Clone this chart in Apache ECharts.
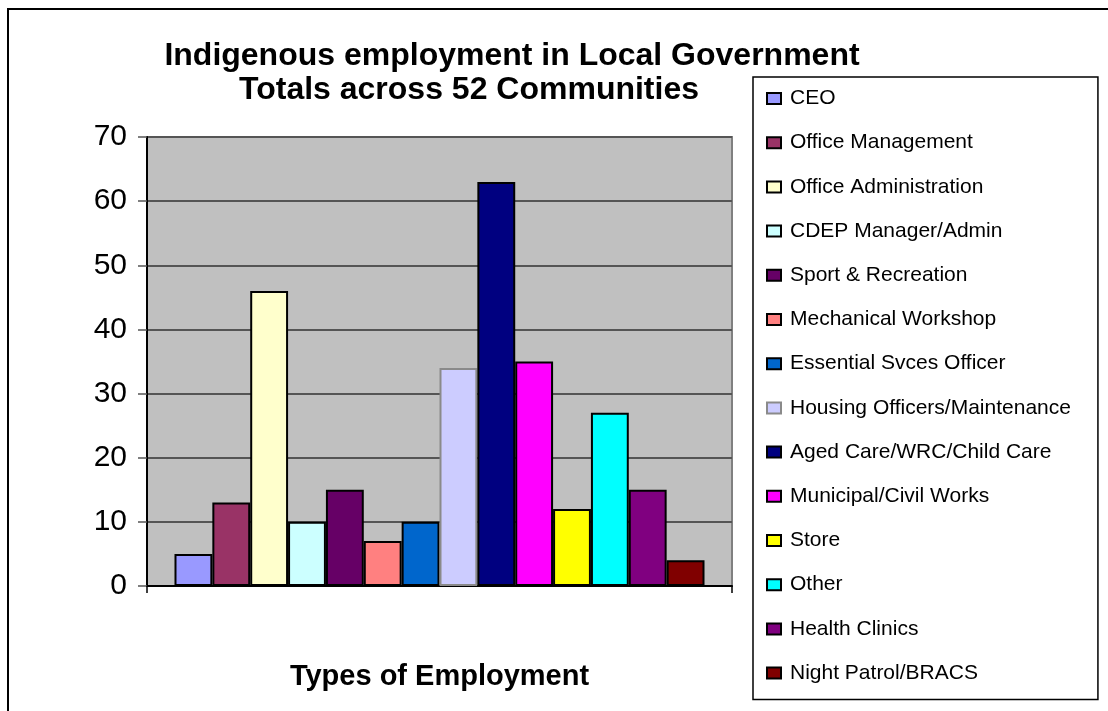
<!DOCTYPE html>
<html>
<head>
<meta charset="utf-8">
<script src="https://cdn.jsdelivr.net/npm/echarts@6/dist/echarts.min.js"></script>
<style>
  html, body { margin: 0; padding: 0; background: #ffffff; }
  #chart { width: 1108px; height: 711px; }
</style>
</head>
<body>
<div id="chart"></div>
<script>
// Employment types (one bar each) and head counts
const employmentTypes = [
  'CEO', 'Office Management', 'Office Administration', 'CDEP Manager/Admin',
  'Sport & Recreation', 'Mechanical Workshop', 'Essential Svces Officer',
  'Housing Officers/Maintenance', 'Aged Care/WRC/Child Care',
  'Municipal/Civil Works', 'Store', 'Other', 'Health Clinics', 'Night Patrol/BRACS'
];
const employeeCounts = [5, 13, 46, 10, 15, 7, 10, 34, 63, 35, 12, 27, 15, 4];
const yTicks = { min: 0, max: 70, interval: 10 };
const titleLines = ['Indigenous employment in Local Government', 'Totals across 52 Communities'];
const xAxisTitle = 'Types of Employment';

// Classic spreadsheet palette
const palette = [
  '#9999FF', '#993366', '#FFFFCC', '#CCFFFF', '#660066', '#FF8080', '#0066CC',
  '#CCCCFF', '#000080', '#FF00FF', '#FFFF00', '#00FFFF', '#800080', '#800000'
];

const FONT = '"Liberation Sans", Arial, sans-serif';

const series = employmentTypes.map((name, i) => ({
  name: name,
  type: 'bar',
  barGap: '0%',
  barCategoryGap: '9.4%',
  data: [employeeCounts[i]],
  itemStyle: {
    color: palette[i],
    borderColor: name === 'Housing Officers/Maintenance' ? '#8a8a8a' : '#000000',
    borderWidth: 2
  },
  emphasis: { disabled: true }
}));

const chart = echarts.init(document.getElementById('chart'), null, { renderer: 'canvas' });
chart.setOption({
  animation: false,
  backgroundColor: '#ffffff',
  textStyle: { fontFamily: FONT },
  title: [
    {
      text: titleLines[0], left: 507, top: 35, textAlign: 'center',
      textStyle: { fontFamily: FONT, fontSize: 32, fontWeight: 'bold', color: '#000' }
    },
    {
      text: titleLines[1], left: 464, top: 69, textAlign: 'center',
      textStyle: { fontFamily: FONT, fontSize: 32, fontWeight: 'bold', color: '#000' }
    }
  ],
  graphic: [
    {
      type: 'rect',
      shape: { x: 8, y: 9, width: 1120, height: 720 },
      style: { fill: null, stroke: '#000', lineWidth: 2 },
      silent: true, z: 100
    }
  ],
  legend: {
    orient: 'vertical',
    left: 753, top: 77, bottom: 0,
    padding: [11, 27, 16, 13],
    borderColor: '#000', borderWidth: 1.5,
    backgroundColor: '#fff',
    icon: 'rect',
    itemWidth: 14, itemHeight: 11,
    itemGap: 23.2,
    selectedMode: false,
    textStyle: { fontFamily: FONT, fontSize: 21, color: '#000', lineHeight: 20, padding: [0, 0, 0, 4] },
    data: employmentTypes
  },
  grid: {
    left: 147, right: 376, top: 137, bottom: 125,
    show: true, backgroundColor: '#C0C0C0', borderColor: '#808080', borderWidth: 2
  },
  xAxis: {
    type: 'category',
    data: [''],
    boundaryGap: true,
    name: xAxisTitle,
    nameLocation: 'middle',
    nameGap: 76,
    nameTextStyle: { fontFamily: FONT, fontSize: 29, fontWeight: 'bold', color: '#000' },
    axisLine: { lineStyle: { color: '#000', width: 2 } },
    axisTick: { show: true, length: 7, lineStyle: { color: '#000', width: 1.5 } },
    axisLabel: { show: false },
    splitLine: { show: false }
  },
  yAxis: {
    type: 'value',
    min: yTicks.min, max: yTicks.max, interval: yTicks.interval,
    axisLine: { show: true, lineStyle: { color: '#000', width: 2 } },
    axisTick: { show: true, length: 9, lineStyle: { color: '#555', width: 1.5 } },
    axisLabel: { fontFamily: FONT, fontSize: 30, color: '#000', margin: 20 },
    splitLine: { show: true, lineStyle: { color: '#555555', width: 2 } }
  },
  series: series
});
</script>
</body>
</html>
